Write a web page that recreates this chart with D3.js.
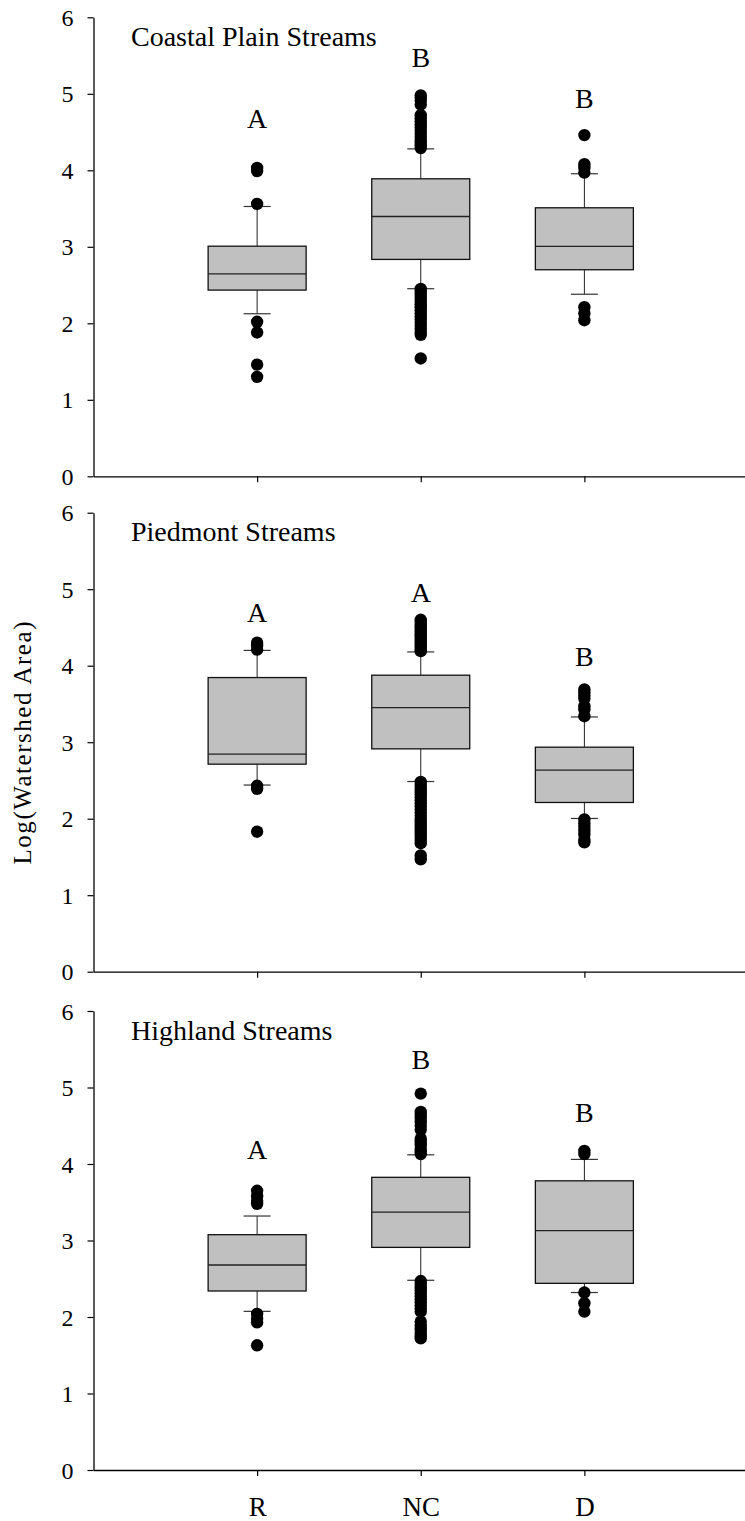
<!DOCTYPE html>
<html lang="en">
<head>
  <meta charset="UTF-8">
  <title>Log(Watershed Area) by stream type</title>
  <script src="https://cdn.jsdelivr.net/npm/d3@7/dist/d3.min.js"></script>
  <style>
    html, body {
      margin: 0;
      padding: 0;
      background: #fff;
    }
    svg text {
      font-family: "Liberation Serif", "Times New Roman", serif;
    }
  </style>
</head>
<body>
  <svg id="chart" width="745" height="1521"></svg>
  <script>
    const categories = ['R', 'NC', 'D'];
    const regions = ['Coastal Plain Streams', 'Piedmont Streams', 'Highland Streams'];
    const yTicks = [0, 1, 2, 3, 4, 5, 6];

    // [lower whisker, q1, median, q3, upper whisker] for R, NC, D
    const coastalStats = [
      [2.125, 2.434, 2.645, 3.008, 3.527],
      [2.452, 2.835, 3.396, 3.889, 4.28],
      [2.38, 2.70, 3.005, 3.51, 3.955]
    ];
    const coastalOutliers = [
      [4.03, 3.99, 3.56, 2.02, 1.88, 1.46, 1.30],
      [4.98, 4.95, 4.91, 4.86, 4.72, 4.68, 4.64, 4.60, 4.56, 4.52, 4.48, 4.44, 4.40, 4.36, 4.32, 4.29,
       2.45, 2.41, 2.37, 2.33, 2.29, 2.25, 2.21, 2.17, 2.13, 2.09, 2.05, 2.01, 1.97, 1.93, 1.89, 1.85, 1.54],
      [4.46, 4.08, 4.03, 3.97, 2.21, 2.13, 2.04]
    ];

    const piedmontStats = [
      [2.44, 2.713, 2.844, 3.845, 4.20],
      [2.486, 2.913, 3.453, 3.876, 4.18],
      [2.003, 2.212, 2.635, 2.935, 3.33]
    ];
    const piedmontOutliers = [
      [4.30, 4.26, 4.21, 2.43, 2.39, 1.83],
      [4.60, 4.57, 4.54, 4.51, 4.48, 4.45, 4.42, 4.39, 4.36, 4.33, 4.30, 4.27, 4.24, 4.21, 4.19,
       2.48, 2.44, 2.40, 2.36, 2.32, 2.28, 2.24, 2.20, 2.16, 2.12, 2.08, 2.04, 2.00, 1.96, 1.92,
       1.88, 1.84, 1.80, 1.76, 1.72, 1.68, 1.52, 1.47],
      [3.69, 3.65, 3.61, 3.57, 3.47, 3.43, 3.34, 1.99, 1.94, 1.89, 1.84, 1.79, 1.72, 1.69]
    ];

    const highlandStats = [
      [2.074, 2.34, 2.68, 3.076, 3.32],
      [2.48, 2.91, 3.37, 3.826, 4.12],
      [2.32, 2.44, 3.13, 3.78, 4.06]
    ];
    const highlandOutliers = [
      [3.65, 3.58, 3.52, 3.48, 2.04, 1.98, 1.93, 1.63],
      [4.92, 4.68, 4.64, 4.60, 4.55, 4.50, 4.45, 4.33, 4.29, 4.25, 4.20, 4.16, 4.13,
       2.47, 2.43, 2.39, 2.35, 2.31, 2.27, 2.23, 2.19, 2.15, 2.11, 2.07, 1.94, 1.89, 1.84, 1.79, 1.75, 1.72],
      [4.17, 4.13, 2.32, 2.18, 2.07]
    ];

    // significance letters and the value they sit at
    const letters = [['A', 'B', 'B'], ['A', 'A', 'B'], ['A', 'B', 'B']];
    const letterValues = [[4.55, 5.35, 4.81], [4.57, 4.83, 4.0], [4.07, 5.24, 4.55]];

    const allStats = [coastalStats, piedmontStats, highlandStats];
    const allOutliers = [coastalOutliers, piedmontOutliers, highlandOutliers];

    const svg = d3.select('#chart');
    const left = 93.5;
    const panelTops = [17.3, 512.7, 1011];
    const panelH = 459;

    const x = d3.scalePoint()
      .domain(categories)
      .range([left, 748])
      .padding(1);

    const boxW = 98;
    const capW = 27;

    regions.forEach((name, p) => {
      const top = panelTops[p];
      const y = d3.scaleLinear().domain([0, 6]).range([top + panelH, top]);
      const g = svg.append('g');

      // y axis
      const ya = g.append('g')
        .attr('transform', `translate(${left},0)`)
        .call(d3.axisLeft(y).tickValues(yTicks).tickFormat(d3.format('d'))
          .tickSize(6).tickSizeOuter(0).tickPadding(14));
      ya.selectAll('text').attr('font-size', 24).attr('font-family', null).attr('dy', '0.34em');

      // x axis
      const xa = g.append('g')
        .attr('transform', `translate(0,${y(0)})`)
        .call(d3.axisBottom(x).tickSize(6).tickSizeOuter(0).tickPadding(14)
          .tickFormat(p === 2 ? d => d : () => ''));
      xa.selectAll('text').attr('font-size', 27).attr('font-family', null).attr('dy', '0.95em');

      [ya, xa].forEach(a => {
        a.select('.domain').attr('stroke', '#000').attr('stroke-width', 1.3);
        a.selectAll('.tick line').attr('stroke', '#000').attr('stroke-width', 1.2);
      });

      // panel title
      g.append('text')
        .attr('x', 131)
        .attr('y', top + 28.5)
        .attr('font-size', 28)
        .text(name);

      const stats = allStats[p];
      const boxes = g.selectAll('g.box')
        .data(categories.map((c, i) => ({c, s: stats[i], out: allOutliers[p][i], i})))
        .join('g')
        .attr('class', 'box');

      // whiskers
      boxes.append('line')
        .attr('x1', d => x(d.c)).attr('x2', d => x(d.c))
        .attr('y1', d => y(d.s[0])).attr('y2', d => y(d.s[1]))
        .attr('stroke', '#222').attr('stroke-width', 1);
      boxes.append('line')
        .attr('x1', d => x(d.c)).attr('x2', d => x(d.c))
        .attr('y1', d => y(d.s[3])).attr('y2', d => y(d.s[4]))
        .attr('stroke', '#222').attr('stroke-width', 1);
      [0, 4].forEach(k => {
        boxes.append('line')
          .attr('x1', d => x(d.c) - capW / 2).attr('x2', d => x(d.c) + capW / 2)
          .attr('y1', d => y(d.s[k])).attr('y2', d => y(d.s[k]))
          .attr('stroke', '#333').attr('stroke-width', 1.2);
      });

      // box
      boxes.append('rect')
        .attr('x', d => x(d.c) - boxW / 2)
        .attr('width', boxW)
        .attr('y', d => y(d.s[3]))
        .attr('height', d => y(d.s[1]) - y(d.s[3]))
        .attr('fill', '#c0c0c0')
        .attr('stroke', '#111')
        .attr('stroke-width', 1.3);

      // median
      boxes.append('line')
        .attr('x1', d => x(d.c) - boxW / 2).attr('x2', d => x(d.c) + boxW / 2)
        .attr('y1', d => y(d.s[2])).attr('y2', d => y(d.s[2]))
        .attr('stroke', '#222').attr('stroke-width', 1.3);

      // outliers
      boxes.selectAll('circle')
        .data(d => d.out.map(v => ({c: d.c, v})))
        .join('circle')
        .attr('cx', d => x(d.c))
        .attr('cy', d => y(d.v))
        .attr('r', 6.2)
        .attr('fill', '#000');

      // letters
      boxes.append('text')
        .attr('x', d => x(d.c))
        .attr('y', d => y(letterValues[p][d.i]))
        .attr('text-anchor', 'middle')
        .attr('font-size', 28)
        .text(d => letters[p][d.i]);
    });

    // shared y label
    svg.append('text')
      .attr('transform', 'translate(31,743) rotate(-90)')
      .attr('text-anchor', 'middle')
      .attr('font-size', 25)
      .attr('textLength', 243)
      .attr('lengthAdjust', 'spacing')
      .text('Log(Watershed Area)');
  </script>
</body>
</html>
